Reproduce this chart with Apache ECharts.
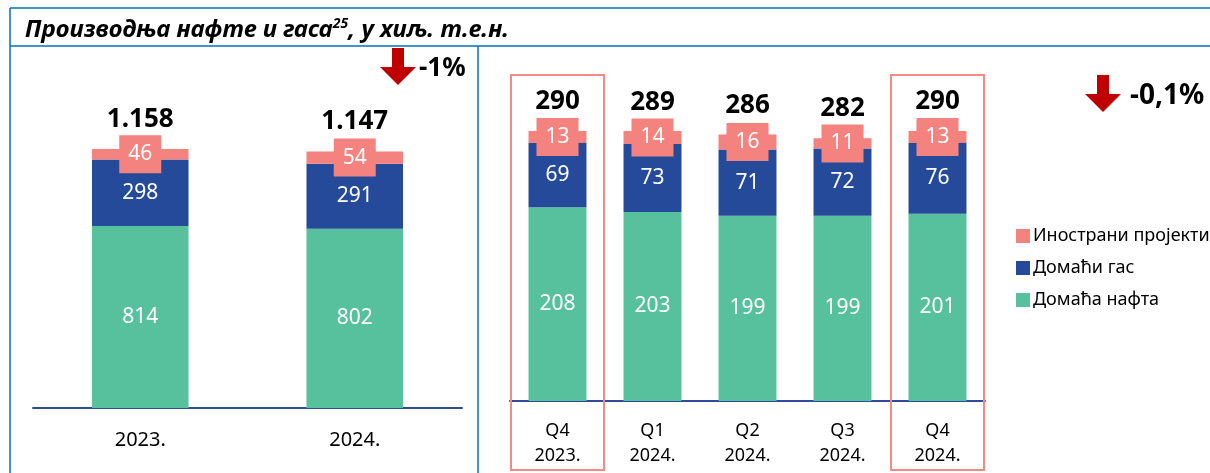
<!DOCTYPE html>
<html>
<head>
<meta charset="utf-8">
<script src="https://cdn.jsdelivr.net/npm/echarts@6/dist/echarts.min.js"></script>
<style>
  html, body { margin: 0; padding: 0; background: #fff; }
  #chart { width: 1210px; height: 473px; }
</style>
</head>
<body>
<div id="chart"></div>
<script>
// годишњи подаци
const years = ['2023.', '2024.']
const yearOil = [814, 802]
const yearGas = [298, 291]
const yearForeign = [46, 54]
const yearTotal = [1158, 1147]
const yearChange = '-1%'

// квартални подаци
const quarters = ['Q4\n2023.', 'Q1\n2024.', 'Q2\n2024.', 'Q3\n2024.', 'Q4\n2024.']
const qOil = [208, 203, 199, 199, 201]
const qGas = [69, 73, 71, 72, 76]
const qForeign = [13, 14, 16, 11, 13]
const qTotal = [290, 289, 286, 282, 290]
const quarterChange = '-0,1%'
const highlighted = [0, 4]

const seriesNames = ['Домаћа нафта', 'Домаћи гас', 'Инострани пројекти']
const colors = ['#57C09C', '#254A9A', '#F4827E']
const frameColor = '#0070C0'
const arrowColor = '#C00000'

function thousands (v) {
  return String(v).replace(/\B(?=(\d{3})+(?!\d))/g, '.')
}

function stack (idx, oil, gas, foreign, total, barWidth) {
  const seg = (i, data) => ({
    name: seriesNames[i],
    type: 'bar',
    stack: 'total' + idx,
    xAxisIndex: idx,
    yAxisIndex: idx,
    barWidth: barWidth,
    silent: true,
    itemStyle: { color: colors[i] },
    label: {
      show: true,
      position: 'inside',
      color: '#fff',
      fontSize: 21,
      lineHeight: 22,
      backgroundColor: i === 2 ? colors[2] : 'transparent',
      padding: i === 2 ? [8, 9] : 0
    },
    data: data
  })
  return [
    seg(0, oil),
    seg(1, gas),
    seg(2, foreign),
    {
      type: 'scatter',
      xAxisIndex: idx,
      yAxisIndex: idx,
      symbolSize: 1,
      silent: true,
      itemStyle: { color: 'transparent', opacity: 1 },
      label: {
        show: true,
        position: 'top',
        distance: 16,
        color: '#000',
        opacity: 1,
        fontSize: 26,
        lineHeight: 26,
        fontWeight: 'bold',
        formatter: (p) => thousands(p.value)
      },
      data: total
    }
  ]
}

function arrow (x, y, text, gap, size) {
  // стрелица надоле + проценат
  return [
    {
      type: 'polygon',
      shape: { points: [[x - 6, y], [x + 6, y], [x + 6, y + 19], [x + 18, y + 19], [x, y + 37], [x - 18, y + 19], [x - 6, y + 19]] },
      style: { fill: arrowColor }
    },
    {
      type: 'text',
      x: x + gap,
      y: y + 21,
      style: { text: text, fontSize: size, fontWeight: 'bold', fill: '#000', fontFamily: 'Noto Sans', verticalAlign: 'middle' }
    }
  ]
}

const chart = echarts.init(document.getElementById('chart'))

const option = {
  animation: false,
  textStyle: { fontFamily: 'Noto Sans' },
  title: {
    left: 20,
    top: 10,
    text: '{t|Производња нафте и гаса}{s|25}{t|, у хиљ. т.е.н.}',
    textStyle: {
      rich: {
        t: { fontSize: 24, fontWeight: 'bold', fontStyle: 'italic', color: '#000', lineHeight: 30 },
        s: { fontSize: 14, fontWeight: 'bold', fontStyle: 'italic', color: '#000', lineHeight: 30, padding: [0, 0, 12, 0] }
      }
    }
  },
  legend: {
    orient: 'vertical',
    left: 1011,
    top: 221,
    itemWidth: 14,
    itemHeight: 14,
    itemGap: 12,
    icon: 'rect',
    selectedMode: false,
    data: ['Инострани пројекти', 'Домаћи гас', 'Домаћа нафта'],
    textStyle: { fontSize: 18, color: '#000', lineHeight: 20, padding: [0, 0, 0, -2] }
  },
  grid: [
    { left: 33, width: 429, top: 95, bottom: 65 },
    { left: 510, width: 475, top: 75, bottom: 72 }
  ],
  xAxis: [
    {
      gridIndex: 0,
      type: 'category',
      data: years,
      axisTick: { show: false },
      axisLine: { lineStyle: { color: '#2F4C9C', width: 2 } },
      axisLabel: { color: '#000', fontSize: 20, margin: 22 }
    },
    {
      gridIndex: 1,
      type: 'category',
      data: quarters,
      axisTick: { show: false },
      axisLine: { lineStyle: { color: '#2F4C9C', width: 2 } },
      axisLabel: { color: '#000', fontSize: 18, lineHeight: 25, margin: 17 }
    }
  ],
  yAxis: [
    { gridIndex: 0, type: 'value', min: 0, max: 1400, show: false },
    { gridIndex: 1, type: 'value', min: 0, max: 350, show: false }
  ],
  series: [
    ...stack(0, yearOil, yearGas, yearForeign, yearTotal, '45%'),
    ...stack(1, qOil, qGas, qForeign, qTotal, '61%')
  ]
}

chart.setOption(option)

// оквир, стрелице и истакнути квартали
const graphics = [
  { type: 'line', shape: { x1: 10, y1: 8, x2: 1210, y2: 8 }, style: { stroke: frameColor, lineWidth: 1.5 } },
  { type: 'line', shape: { x1: 10, y1: 46, x2: 1210, y2: 46 }, style: { stroke: frameColor, lineWidth: 1.5 } },
  { type: 'line', shape: { x1: 10, y1: 8, x2: 10, y2: 473 }, style: { stroke: frameColor, lineWidth: 1.5 } },
  { type: 'line', shape: { x1: 478, y1: 46, x2: 478, y2: 473 }, style: { stroke: frameColor, lineWidth: 1.5 } },
  ...arrow(398, 48, yearChange, 21, 26),
  ...arrow(1103, 75, quarterChange, 27, 28)
]

highlighted.forEach((i) => {
  const c = chart.convertToPixel({ gridIndex: 1 }, [i, 0])
  const n = chart.convertToPixel({ gridIndex: 1 }, [i === 0 ? 1 : i - 1, 0])
  const half = Math.abs(n[0] - c[0]) / 2 - 1
  graphics.push({
    type: 'rect',
    shape: { x: c[0] - half, y: 75, width: half * 2, height: 395 },
    style: { fill: 'none', stroke: '#F28B86', lineWidth: 2 },
    z: 10
  })
})

chart.setOption({ graphic: graphics })
</script>
</body>
</html>
